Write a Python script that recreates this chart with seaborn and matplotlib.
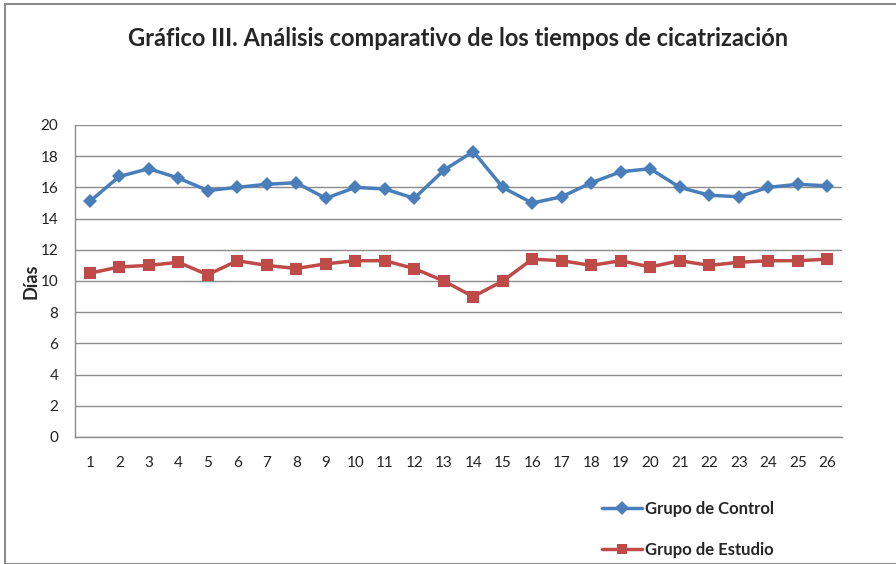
import matplotlib
matplotlib.use("Agg")
import matplotlib.pyplot as plt
import seaborn as sns
import pandas as pd
from matplotlib.patches import Rectangle

dias = list(range(1, 27))
control = [15.1, 16.7, 17.2, 16.6, 15.8, 16.0, 16.2, 16.3, 15.3, 16.0, 15.9, 15.3, 17.1,
           18.3, 16.0, 15.0, 15.4, 16.3, 17.0, 17.2, 16.0, 15.5, 15.4, 16.0, 16.2, 16.1]
estudio = [10.5, 10.9, 11.0, 11.2, 10.4, 11.3, 11.0, 10.8, 11.1, 11.3, 11.3, 10.8, 10.0,
           9.0, 10.0, 11.4, 11.3, 11.0, 11.3, 10.9, 11.3, 11.0, 11.2, 11.3, 11.3, 11.4]
series = ["Grupo de Control", "Grupo de Estudio"]
colors = ["#4A7EBB", "#BE4B48"]

df = pd.DataFrame({
    "Paciente": dias * 2,
    "Días": control + estudio,
    "Grupo": [series[0]] * len(dias) + [series[1]] * len(dias),
})

sns.set_style("white")
plt.rcParams['font.family'] = ['Lato', 'DejaVu Sans']

fig = plt.figure(figsize=(8.96, 5.64), dpi=100)
ax = fig.add_axes([75 / 896, 1 - 437 / 564, 767 / 896, 312 / 564])

sns.lineplot(data=df, x="Paciente", y="Días", hue="Grupo", style="Grupo",
             palette=colors, markers=["D", "s"], dashes=False, linewidth=2.5,
             markersize=8, markeredgewidth=0, ax=ax, legend=False)
# diamonds a bit smaller than the squares
ax.lines[0].set_markersize(7)
ax.lines[1].set_markersize(9)

ax.set_xlim(0.5, 26.5)
ax.set_ylim(0, 20)
ax.set_yticks(range(0, 21, 2))
ax.set_xticks(dias)
ax.yaxis.grid(True, color="#8c8c8c", linewidth=1)
ax.set_axisbelow(True)
for s in ["top", "right"]:
    ax.spines[s].set_visible(False)
for s in ["left", "bottom"]:
    ax.spines[s].set_color("#8c8c8c")
    ax.spines[s].set_linewidth(1)
ax.tick_params(axis="both", length=0, labelsize=11, colors="#222222")
ax.tick_params(axis="x", pad=14)
ax.tick_params(axis="y", pad=12)
ax.set_xlabel("")
ax.set_ylabel("Días", fontsize=13, fontweight="bold", labelpad=1)

fig.text(458 / 896, 1 - 38 / 564, "Gráfico III. Análisis comparativo de los tiempos de cicatrización",
         ha="center", va="center", fontsize=17, fontweight="bold")

handles = [ax.lines[0], ax.lines[1]]
leg = fig.legend(handles, series, loc="upper left", bbox_to_anchor=(587 / 896, 1 - 486 / 564),
                 frameon=False, handlelength=2.4, labelspacing=1.5,
                 handletextpad=0.2, prop={"weight": "bold", "size": 12})
for h in leg.legend_handles:
    h.set_markersize(7)

fig.patches.append(Rectangle((5 / 896, 0), 1.0, 1 - 4 / 564, transform=fig.transFigure,
                             fill=False, edgecolor="#8c8c8c", linewidth=1.5))

fig.savefig("out.png", dpi=100)
